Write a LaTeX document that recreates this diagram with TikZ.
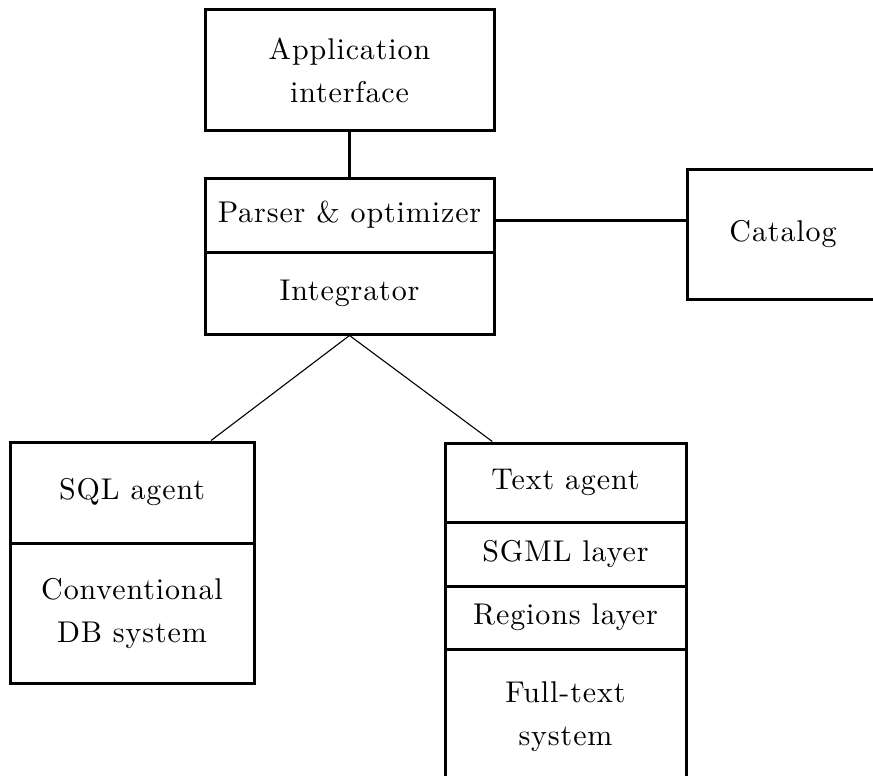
\documentclass[tikz,border=0pt]{standalone}
\usepackage{fontspec}
\newfontfamily\lblfont{lmroman10-regular}[Extension=.otf, LetterSpace=3]
\usetikzlibrary{calc}
\begin{document}
\begin{tikzpicture}[x=1pt,y=-1pt,
  every node/.style={font=\lblfont\fontsize{30}{43}\selectfont, align=center, inner sep=0pt},
  box/.style={draw, line width=3pt, rectangle},
  link/.style={line width=3pt},
  thinlink/.style={line width=1.1pt}]
\useasboundingbox (0,0) rectangle (873,776);

% top: application interface
\node[box, minimum width=289, minimum height=120] (app) at (349.5,70) {Application\\interface};

% parser / integrator stack
\node[box, minimum width=289, minimum height=74] (parser) at (349.5,215) {Parser \& optimizer};
\node[box, minimum width=289, minimum height=82] (integ) at (349.5,293) {Integrator};

% catalog (right side runs past the page edge)
\node[box, minimum width=192, minimum height=130] (catalog) at (783,234) {Catalog};

% SQL agent stack
\node[box, minimum width=244, minimum height=101] (sql) at (132,492.5) {SQL agent};
\node[box, minimum width=244, minimum height=140] (conv) at (132,613) {Conventional\\DB system};

% text agent stack (bottom runs past the page edge)
\node[box, minimum width=241, minimum height=79] (text) at (565.5,482.5) {Text agent};
\node[box, minimum width=241, minimum height=64] (sgml) at (565.5,554) {SGML layer};
\node[box, minimum width=241, minimum height=63] (regions) at (565.5,617.5) {Regions layer};
\node[box, minimum width=241, minimum height=136] (fulltext) at (565.5,717) {Full-text\\system};

% connectors
\draw[link] (app.south) -- (parser.north);
\coordinate (pcout) at ($(parser.east)+(0,5)$);
\draw[link] (pcout) -- (pcout -| catalog.west);
\coordinate (sqltop) at ($(sql.north west)!0.82!(sql.north east)$);
\coordinate (texttop) at ($(text.north west)!0.2!(text.north east)$);
\draw[thinlink] (integ.south) -- (sqltop);
\draw[thinlink] (integ.south) -- (texttop);
\end{tikzpicture}
\end{document}
